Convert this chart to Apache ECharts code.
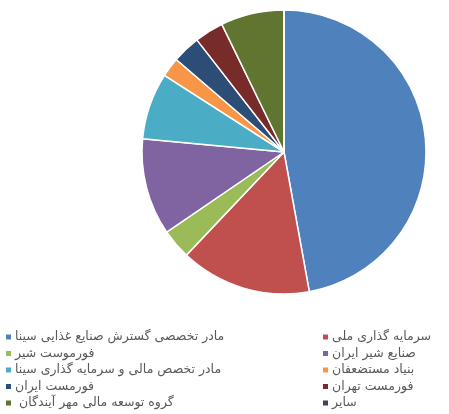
<!DOCTYPE html>
<html><head><meta charset="utf-8">
<script src="https://cdn.jsdelivr.net/npm/echarts@6/dist/echarts.min.js"></script>
<style>html,body{margin:0;padding:0;background:#fff}#c{width:449px;height:414px}</style>
</head><body><div id="c"></div>
<script>
const categories = [
  'مادر تخصصی گسترش صنایع غذایی سینا',
  'سرمایه گذاری ملی',
  'فورموست شیر',
  'صنایع شیر ایران',
  'مادر تخصص مالی و سرمایه گذاری سینا',
  'بنیاد مستضعفان',
  'فورمست ایران',
  'فورمست تهران',
  ' گروه توسعه مالی مهر آیندگان',
  'سایر'
];
const values = [47.1, 14.9, 3.4, 11.0, 7.6, 2.2, 3.2, 3.3, 7.2, 0];
const colors = ['#4F81BD','#C0504D','#9BBB59','#8064A2','#4BACC6','#F79646','#2C4D75','#772C2A','#5F7530','#4D3B62'];

const chart = echarts.init(document.getElementById('c'));
const legendBase = {
  orient: 'vertical', icon: 'rect', itemWidth: 7, itemHeight: 7, itemGap: 2.5,
  top: 330, height: 84, padding: 0,
  textStyle: { fontFamily: 'DejaVu Sans', fontSize: 12.5, lineHeight: 14, color: '#595959', padding: [0,0,0,-2] },
  selectedMode: false
};
chart.setOption({
  animation: false,
  color: colors,
  legend: [
    Object.assign({}, legendBase, { left: 4, data: categories.filter((_, i) => i % 2 === 0) }),
    Object.assign({}, legendBase, { left: 321, data: categories.filter((_, i) => i % 2 === 1) })
  ],
  series: [{
    type: 'pie',
    center: [284, 152],
    radius: 142,
    startAngle: 90,
    clockwise: true,
    label: { show: false },
    labelLine: { show: false },
    itemStyle: { borderColor: '#fff', borderWidth: 1.5 },
    emphasis: { disabled: true },
    data: categories.map((n, i) => ({ name: n, value: values[i] }))
  }]
});
</script></body></html>
